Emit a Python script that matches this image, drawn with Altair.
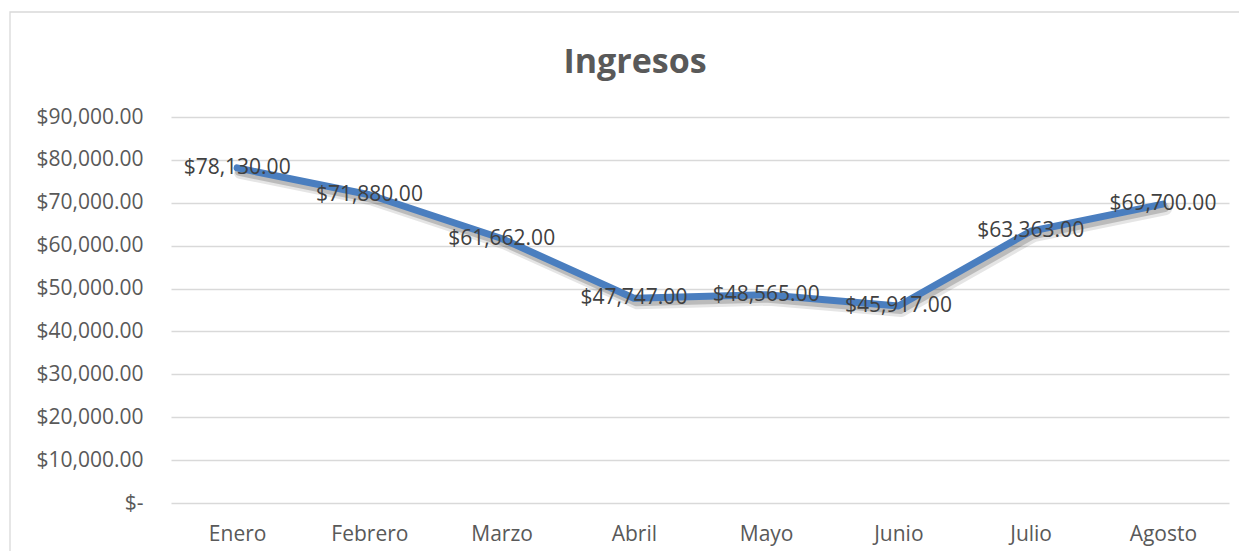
import altair as alt
import pandas as pd

meses = ["Enero", "Febrero", "Marzo", "Abril", "Mayo", "Junio", "Julio", "Agosto"]
ingresos = [78130.00, 71880.00, 61662.00, 47747.00, 48565.00, 45917.00, 63363.00, 69700.00]
titulo = "Ingresos"

df = pd.DataFrame({"mes": meses, "ingreso": ingresos})

FONT = "Open Sans"

x = alt.X("mes:N", sort=meses, title=None,
          scale=alt.Scale(paddingInner=0, paddingOuter=0, align=0.5),
          axis=alt.Axis(labelAngle=0, domain=False, ticks=False, labelPadding=20,
                        labelFont=FONT, labelFontSize=21, labelColor="#595959"))
y = alt.Y("ingreso:Q", title=None,
          scale=alt.Scale(domain=[0, 90000], nice=False),
          axis=alt.Axis(values=list(range(0, 90001, 10000)), domain=False, ticks=False,
                        labelPadding=28, labelFont=FONT, labelFontSize=21, labelColor="#595959",
                        gridColor="#D9D9D9", gridWidth=1.3,
                        labelExpr="datum.value == 0 ? '$-\u00a0\u00a0' : format(datum.value, '$,.2f')"))

base = alt.Chart(df)

border = alt.Chart(pd.DataFrame({"a": [0]})).mark_rect(
    fill=None, stroke="#D9D9D9", strokeWidth=1.3
).encode(x=alt.value(-161), x2=alt.value(1075), y=alt.value(-105), y2=alt.value(470))

title = alt.Chart(pd.DataFrame({"t": [titulo]})).mark_text(
    font=FONT, fontSize=34, fontWeight="bold", color="#595959",
    align="center", baseline="alphabetic"
).encode(x=alt.value(464), y=alt.value(-44), text="t:N")

shadow2 = base.mark_line(color="#000000", opacity=0.10, strokeWidth=12, strokeCap="round",
                         strokeJoin="round", xOffset=3, yOffset=5).encode(x=x, y=y)
shadow = base.mark_line(color="#000000", opacity=0.18, strokeWidth=8, strokeCap="round",
                        strokeJoin="round", xOffset=2, yOffset=4).encode(x=x, y=y)
line = base.mark_line(color="#4A7EBF", strokeWidth=7, strokeCap="round",
                      strokeJoin="round").encode(x=x, y=y)
labels = base.mark_text(font=FONT, fontSize=21, color="#404040", baseline="middle",
                        align="center").encode(
    x=x, y=y, text=alt.Text("ingreso:Q", format="$,.2f"))

chart = alt.layer(border, title, shadow2, shadow, line, labels).properties(
    width=1058, height=386,
    autosize=alt.AutoSizeParams(type="none"),
    padding={"left": 163, "top": 109, "right": 10, "bottom": 48},
).configure_view(stroke=None)

chart.save("out.html", embed_options={"renderer": "svg", "actions": False})
